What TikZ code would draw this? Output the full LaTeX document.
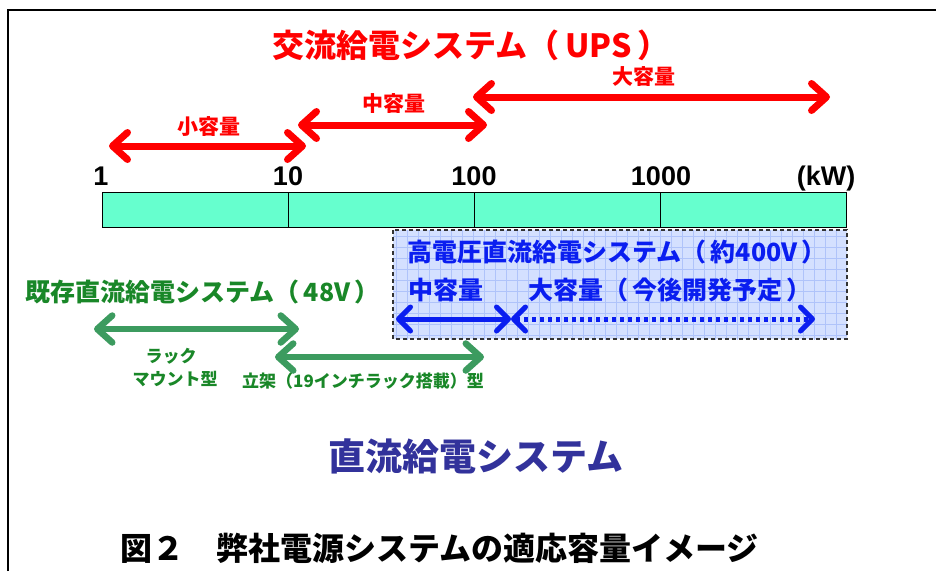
\documentclass[tikz,border=0pt]{standalone}
\usepackage{fontspec}
\setmainfont{Liberation Sans}
\newfontfamily\jp{Noto Sans CJK JP}
\usetikzlibrary{arrows.meta}
\definecolor{upsred}{RGB}{255,0,0}
\definecolor{barfill}{RGB}{102,255,206}
\definecolor{hvblue}{RGB}{10,30,240}
\definecolor{boxfill}{RGB}{212,224,255}
\definecolor{gridblue}{RGB}{175,195,250}
\definecolor{dkgreen}{RGB}{25,135,40}
\definecolor{argreen}{RGB}{60,155,95}
\definecolor{indigo}{RGB}{50,50,155}
\begin{document}
\begin{tikzpicture}[x=1pt,y=-1pt,
  jpfont/.style={font=\jp\bfseries\fontsize{#1}{#1}\selectfont},
  redarrow/.style={draw=upsred,line width=7pt,{Straight Barb[length=15pt,width=27pt,round]}-{Straight Barb[length=15pt,width=27pt,round]}},
  bluearrow/.style={draw=hvblue,line width=5pt,{Straight Barb[length=12pt,width=24pt,round]}-{Straight Barb[length=12pt,width=24pt,round]}},
  greenarrow/.style={draw=argreen,line width=6.5pt,{Straight Barb[length=15pt,width=27pt,round]}-{Straight Barb[length=15pt,width=27pt,round]}},
  scalelbl/.style={font=\bfseries\fontsize{27}{27}\selectfont,anchor=base,inner sep=0pt},
  barcell/.style={draw=black,fill=barfill,line width=1.3pt,minimum height=35pt,minimum width=186pt,inner sep=0pt,anchor=north west},
]
\useasboundingbox (0,0) rectangle (936,571);
\fill[white] (0,0) rectangle (936,571);
% frame
\draw[line width=1.6pt] (8,571) -- (8,10) -- (936,10);

% title
\node[jpfont=32,text=upsred] (title) at (471,45) {交流給電システム（\,UPS\,）};

% red range arrows
\coordinate (r1a) at (109,146); \coordinate (r1b) at (306,146);
\coordinate (r2a) at (298,125); \coordinate (r2b) at (487,125);
\coordinate (r3a) at (473,97);  \coordinate (r3b) at (830,97);
\draw[redarrow] (r1a) -- (r1b);
\draw[redarrow] (r2a) -- (r2b);
\draw[redarrow] (r3a) -- (r3b);
\node[jpfont=21,text=upsred] (small) at (209,127) {小容量};
\node[jpfont=21,text=upsred] (mid) at (394,104) {中容量};
\node[jpfont=21,text=upsred] (large) at (644,77) {大容量};

% scale labels
\node[scalelbl] (s1) at (101,185) {1};
\node[scalelbl] (s10) at (288,185) {10};
\node[scalelbl] (s100) at (474,185) {100};
\node[scalelbl] (s1000) at (661,185) {1000};
\node[scalelbl] (skw) at (826,185) {(kW)};

% bar
\node[barcell] (c1) at (102,192) {};
\node[barcell] (c2) at (288,192) {};
\node[barcell] (c3) at (474,192) {};
\node[barcell] (c4) at (660,192) {};

% high-voltage DC box
\begin{scope}
\clip (393,230) rectangle (847,339);
\fill[boxfill] (393,230) rectangle (847,339);
\foreach \gx in {396,407,...,847} {\draw[gridblue,line width=0.6pt] (\gx,228) -- (\gx,341);}
\foreach \gy in {236,247,...,339} {\draw[gridblue,line width=0.6pt] (390,\gy) -- (850,\gy);}
\end{scope}
\draw[black!80,line width=1.2pt,dash pattern=on 4pt off 3pt] (393,230) rectangle (847,339);
\node[jpfont=25,text=hvblue,anchor=west] (hvtitle) at (404,252) {高電圧直流給電システム（\,約400V\,）};
\node[jpfont=25,text=hvblue,anchor=west] (hvmid) at (405,290) {中容量};
\node[jpfont=25,text=hvblue,anchor=west] (hvlarge) at (525,290) {大容量（\,今後開発予定\,）};
\coordinate (b1) at (396,319); \coordinate (b2) at (511,319); \coordinate (b3) at (815,319);
\draw[bluearrow] (b1) -- (b2);
\draw[bluearrow,dash pattern=on 4pt off 4pt] (b2) -- (b3);

% existing DC 48V
\node[jpfont=25,text=dkgreen,anchor=west] (dc48) at (22,292) {既存直流給電システム（\,48V\,）};
\coordinate (g1a) at (94,329); \coordinate (g1b) at (299,329);
\coordinate (g2a) at (275,357); \coordinate (g2b) at (484,357);
\draw[greenarrow] (g1a) -- (g1b);
\draw[greenarrow] (g2a) -- (g2b);
\node[jpfont=17,text=dkgreen] (rack1) at (171,356) {ラック};
\node[jpfont=17,text=dkgreen] (rack2) at (175,379) {マウント型};
\node[jpfont=17,text=dkgreen] (tate) at (363,381) {立架（19インチラック搭載）型};

% DC label
\node[jpfont=37,text=indigo] (dc) at (476,456) {直流給電システム};

% caption
\node[jpfont=32,text=black,anchor=west] (cap) at (117,548) {図２　弊社電源システムの適応容量イメージ};
\end{tikzpicture}
\end{document}
